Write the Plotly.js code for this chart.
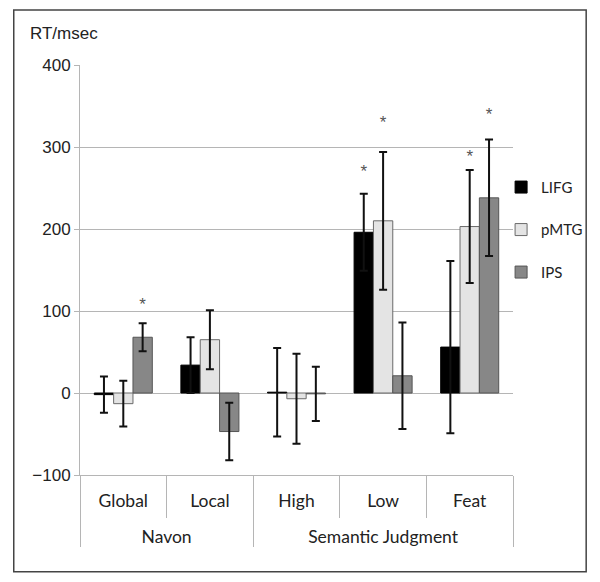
<!DOCTYPE html>
<html><head><meta charset="utf-8">
<script src="https://cdn.plot.ly/plotly-3.0.1.min.js"></script>
<style>html,body{margin:0;padding:0;background:#fff}</style>
</head><body><div id="chart" style="width:600px;height:582px"></div>
<script>
const groups = ['Navon', 'Navon', 'Semantic Judgment', 'Semantic Judgment', 'Semantic Judgment'];
const conditions = ['Global', 'Local', 'High', 'Low', 'Feat'];
const seriesNames = ['LIFG', 'pMTG', 'IPS'];
const lifg = [-2, 34, 1, 196, 56];
const lifgErr = [22, 34, 54, 47, 105];
const pmtg = [-13, 65, -7, 210, 203];
const pmtgErr = [28, 36, 55, 84, 69];
const ips = [68, -47, -1, 21, 238];
const ipsErr = [17, 35, 33, 65, 71];
const lifgStar = [null, null, null, 269, null];
const pmtgStar = [null, null, null, 328, 287];
const ipsStar = [107, null, null, null, 338];

const colors = ['#000000', '#e4e4e4', '#878787'];
const outlines = ['#000000', '#6a6a6a', '#555555'];
const values = [lifg, pmtg, ips];
const errs = [lifgErr, pmtgErr, ipsErr];
const stars = [lifgStar, pmtgStar, ipsStar];
// leading line break pushes the group row lower, as in the reference table layout
const xcat = [groups.map(g => '<br>' + g), conditions];

const traces = [];
for (let i = 0; i < 3; i++) {
  traces.push({
    type: 'bar', name: seriesNames[i], x: xcat, y: values[i],
    legendgroup: seriesNames[i],
    marker: {color: colors[i], line: {color: outlines[i], width: 1}},
    error_y: {type: 'data', array: errs[i], visible: true, color: '#111', thickness: 2, width: 4},
    hoverinfo: 'skip'
  });
}
for (let i = 0; i < 3; i++) {
  traces.push({
    type: 'scatter', mode: 'text', x: xcat, y: stars[i], text: stars[i].map(v => v === null ? '' : '*'),
    textposition: 'middle center', textfont: {family: 'Liberation Sans', size: 17, color: '#555'},
    showlegend: false, hoverinfo: 'skip', cliponaxis: false
  });
}

const gridC = '#b5b5b5';
const layout = {
  width: 600, height: 582,
  margin: {l: 80, r: 83, t: 65, b: 107},
  paper_bgcolor: '#fff', plot_bgcolor: '#fff',
  barmode: 'group', bargap: 0.33, bargroupgap: 0,
  scattermode: 'group', scattergap: 0.33,
  font: {family: 'Liberation Sans, Arial, sans-serif', color: '#222'},
  showlegend: true,
  xaxis: {
    type: 'multicategory', showdividers: true, dividercolor: gridC, dividerwidth: 1,
    tickson: 'boundaries', ticks: 'outside', ticklen: 42, tickcolor: gridC, tickwidth: 1,
    ticklabelstandoff: 10,
    tickfont: {family: 'Lato, sans-serif', size: 17.5, color: '#222'},
    showline: true, linecolor: gridC, showgrid: false, zeroline: false, fixedrange: true
  },
  yaxis: {
    range: [-100, 400], dtick: 100, tick0: 0, showgrid: true, gridcolor: gridC, gridwidth: 1,
    zeroline: false, showline: true, linecolor: gridC, ticks: 'outside', ticklen: 5, tickcolor: gridC,
    tickfont: {size: 17, color: '#222'}, fixedrange: true
  },
  legend: {
    x: 0.9725, xanchor: 'left', y: 0.598, yanchor: 'middle', bgcolor: 'rgba(0,0,0,0)',
    font: {family: 'Lato, sans-serif', size: 15, color: '#222'}, tracegroupgap: 20,
    itemclick: false, itemdoubleclick: false
  },
  annotations: [{
    text: 'RT/msec', xref: 'paper', yref: 'paper', x: -0.121, y: 1.078, xanchor: 'left', yanchor: 'middle',
    showarrow: false, font: {size: 17, color: '#222'}
  }],
  shapes: [{
    type: 'rect', xref: 'paper', yref: 'paper', x0: -0.153, x1: 1.169, y0: -0.236, y1: 1.134,
    line: {color: '#444', width: 1.5}
  }]
};
Plotly.newPlot('chart', traces, layout, {displayModeBar: false, staticPlot: true});
</script></body></html>
